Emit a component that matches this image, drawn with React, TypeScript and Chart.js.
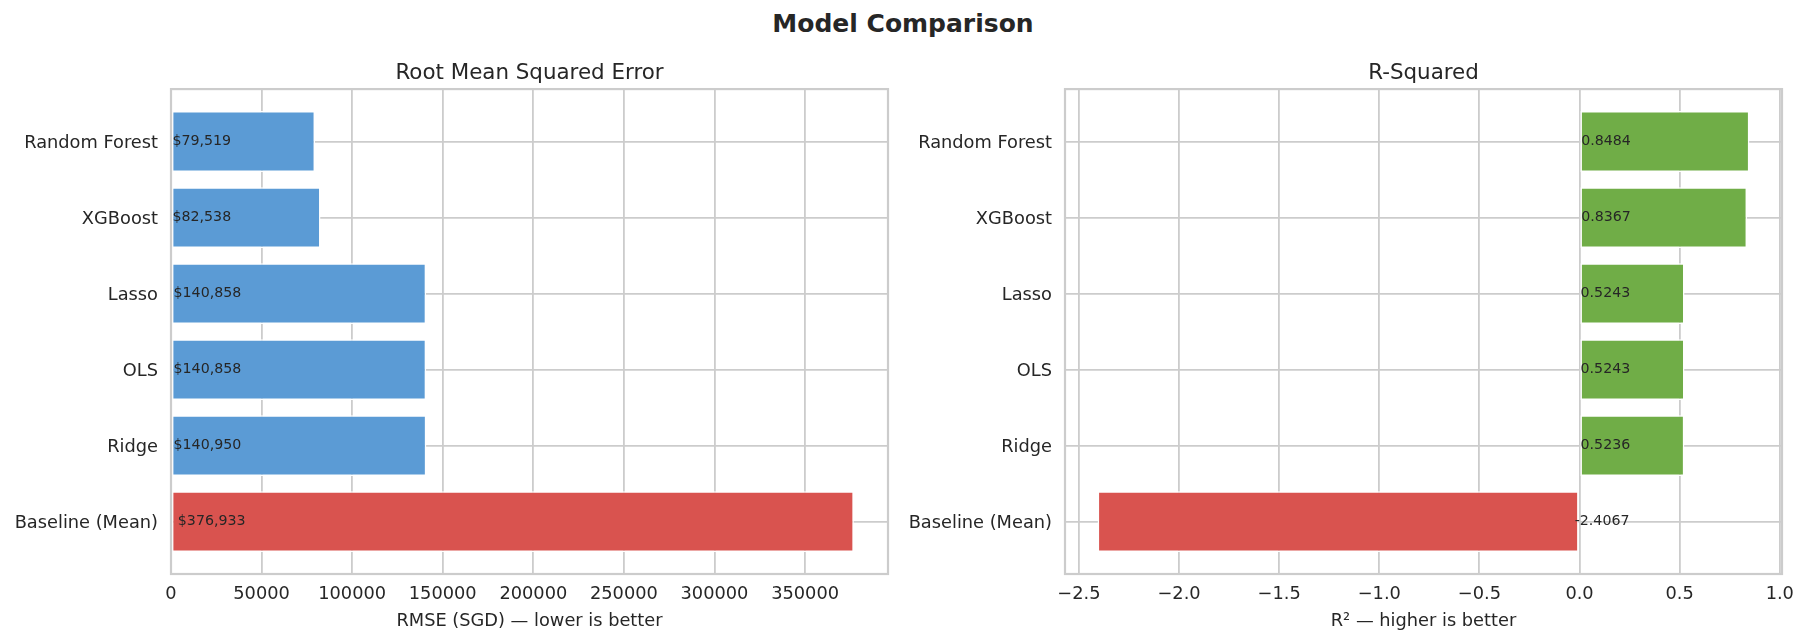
import React, { useEffect, useRef } from "react";
import { Chart, registerables } from "chart.js";

Chart.register(...registerables);

// ---------- data ----------
const models = ["Random Forest", "XGBoost", "Lasso", "OLS", "Ridge", "Baseline (Mean)"];
const rmseValues = [79519, 82538, 140858, 140858, 140950, 376933];
const r2Values = [0.8484, 0.8367, 0.5243, 0.5243, 0.5236, -2.4067];
const rmseTicks = [0, 50000, 100000, 150000, 200000, 250000, 300000, 350000];
const r2Ticks = [-2.5, -2.0, -1.5, -1.0, -0.5, 0.0, 0.5, 1.0];
const rmseBarLabels = rmseValues.map((v) => "$" + v.toLocaleString("en-US"));
const r2BarLabels = r2Values.map((v) => v.toFixed(4));

const BLUE = "#5b9bd5";
const GREEN = "#70ad47";
const RED = "#d9534f";
const rmseColors = models.map((m) => (m.startsWith("Baseline") ? RED : BLUE));
const r2Colors = models.map((m) => (m.startsWith("Baseline") ? RED : GREEN));

const FONT = "'DejaVu Sans', sans-serif";
const TEXT = "#262626";
const GRID = "#cccccc";

function span(vals: number[]) {
  const lo = Math.min(0, ...vals);
  const hi = Math.max(0, ...vals);
  const m = (hi - lo) * 0.05;
  return { min: lo < 0 ? lo - m : 0, max: hi + m };
}

type PanelProps = {
  left: number;
  width: number;
  values: number[];
  colors: string[];
  ticks: number[];
  tickFmt: (v: number) => string;
  barLabels: string[];
  title: string;
  xLabel: string;
  yAxisWidth: number;
  padRight: number;
};

function Panel(p: PanelProps) {
  const ref = useRef<HTMLCanvasElement | null>(null);
  useEffect(() => {
    if (!ref.current) return;
    const lim = span(p.values);
    const tickFont = { family: FONT, size: 17.8, lineHeight: 1.2 };
    const framePlugin = {
      id: "frameAndLabels",
      afterDatasetsDraw(chart: any) {
        const { ctx, chartArea, scales } = chart;
        ctx.save();
        ctx.strokeStyle = GRID;
        ctx.lineWidth = 2.2;
        ctx.strokeRect(chartArea.left, chartArea.top, chartArea.right - chartArea.left, chartArea.bottom - chartArea.top);
        // category labels (y axis)
        ctx.fillStyle = TEXT;
        ctx.font = `17.8px ${FONT}`;
        ctx.textAlign = "right";
        ctx.textBaseline = "middle";
        models.forEach((m, i) => {
          const y = scales.y.getPixelForValue(i);
          ctx.fillText(m, chartArea.left - 13, y + 2);
        });
        // bar value labels
        ctx.font = `14.2px ${FONT}`;
        ctx.textAlign = "left";
        ctx.textBaseline = "middle";
        p.values.forEach((v, i) => {
          const x = scales.x.getPixelForValue(v * 0.01);
          const y = scales.y.getPixelForValue(i);
          ctx.fillText(p.barLabels[i], x, y);
        });
        ctx.restore();
      },
    };
    const chart = new Chart(ref.current, {
      type: "bar",
      data: {
        datasets: [
          {
            data: p.values.map((v, i) => ({ x: v, y: i })),
            backgroundColor: p.colors,
            borderColor: "#ffffff",
            borderWidth: 1.5,
            borderSkipped: false,
            barPercentage: 0.8,
            categoryPercentage: 1.0,
          } as any,
        ],
      },
      options: {
        indexAxis: "y",
        animation: false,
        responsive: false,
        maintainAspectRatio: false,
        devicePixelRatio: 1,
        layout: { padding: { left: 0, right: p.padRight, top: 0, bottom: 0 } },
        plugins: {
          legend: { display: false },
          tooltip: { enabled: false },
          title: {
            display: true,
            text: p.title,
            fullSize: false,
            color: TEXT,
            font: { family: FONT, size: 21.4, weight: "normal", lineHeight: 1.2 },
            padding: { top: 60.2, bottom: 3.2 },
          },
        },
        scales: {
          x: {
            type: "linear",
            position: "bottom",
            offset: false,
            min: lim.min,
            max: lim.max,
            afterBuildTicks: (s: any) => {
              s.ticks = p.ticks.map((v) => ({ value: v }));
            },
            ticks: {
              callback: (v: any) => p.tickFmt(Number(v)),
              color: TEXT,
              font: tickFont,
              padding: 9.5,
              maxRotation: 0,
              autoSkip: false,
            },
            grid: { color: GRID, lineWidth: 1.8, drawTicks: false, offset: false },
            border: { display: false },
            title: {
              display: true,
              text: p.xLabel,
              color: TEXT,
              font: tickFont,
              padding: { top: 0, bottom: 11 },
            },
            afterFit: (s: any) => {
              s.height = 69;
            },
          },
          y: {
            type: "linear",
            offset: false,
            min: -0.69,
            max: 5.69,
            reverse: true,
            afterBuildTicks: (s: any) => {
              s.ticks = models.map((_, i) => ({ value: i }));
            },
            ticks: { display: false },
            grid: { color: GRID, lineWidth: 1.8, drawTicks: false, offset: false },
            border: { display: false },
            afterFit: (s: any) => {
              s.width = p.yAxisWidth;
            },
          },
        },
      } as any,
      plugins: [framePlugin],
    });
    return () => chart.destroy();
  }, []);
  return (
    <canvas
      ref={ref}
      width={p.width}
      height={643}
      style={{ position: "absolute", left: p.left, top: 0, width: p.width, height: 643 }}
    />
  );
}

const fmtRmse = (v: number) => String(Math.round(v));
const fmtR2 = (v: number) => v.toFixed(1).replace("-", "\u2212");

export default function App() {
  return (
    <div style={{ position: "absolute", left: 0, top: 0, width: 1806, height: 643, background: "#ffffff", overflow: "hidden" }}>
      <div
        style={{
          position: "absolute",
          left: 0,
          top: 9,
          width: 1806,
          textAlign: "center",
          fontFamily: FONT,
          fontWeight: "bold",
          fontSize: 25,
          lineHeight: "30px",
          color: TEXT,
        }}
      >
        Model Comparison
      </div>
      <Panel
        left={0}
        width={903}
        values={rmseValues}
        colors={rmseColors}
        ticks={rmseTicks}
        tickFmt={fmtRmse}
        barLabels={rmseBarLabels}
        title="Root Mean Squared Error"
        xLabel="RMSE (SGD) — lower is better"
        yAxisWidth={171}
        padRight={15}
      />
      <Panel
        left={903}
        width={903}
        values={r2Values}
        colors={r2Colors}
        ticks={r2Ticks}
        tickFmt={fmtR2}
        barLabels={r2BarLabels}
        title="R-Squared"
        xLabel="R² — higher is better"
        yAxisWidth={162}
        padRight={24}
      />
    </div>
  );
}
